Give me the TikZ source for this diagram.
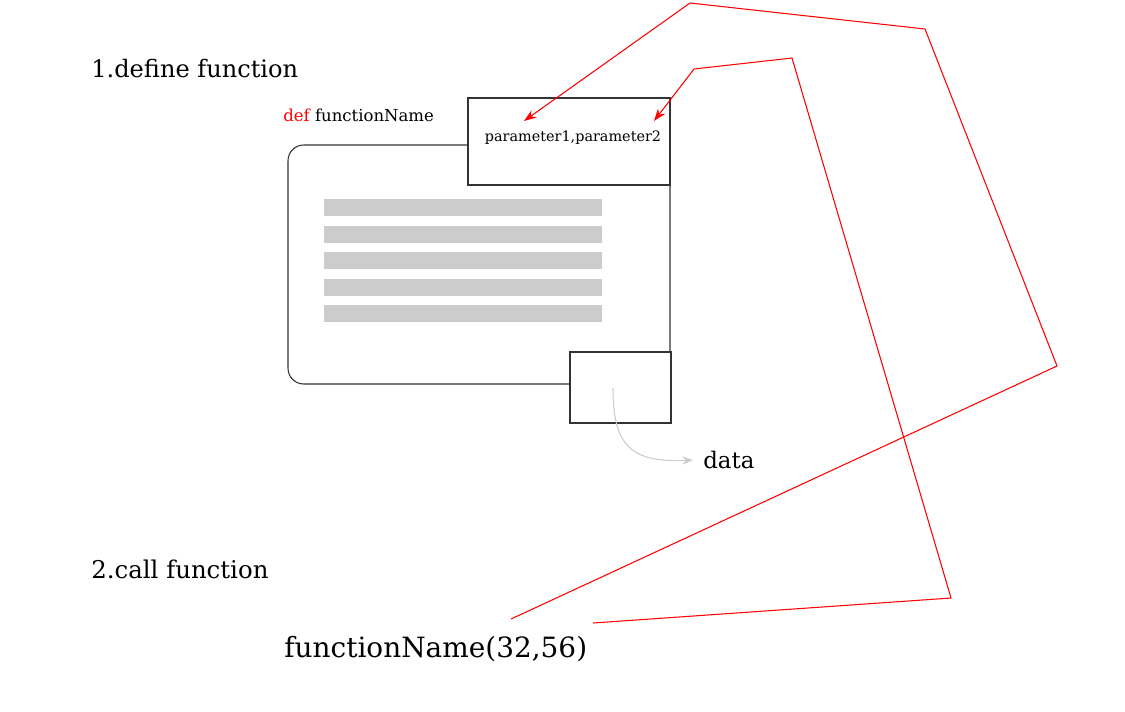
\documentclass[tikz,border=0pt]{standalone}
\usepackage{fontspec}
\setmainfont{DejaVu Serif}
\usetikzlibrary{arrows.meta}
\definecolor{barGray}{HTML}{CCCCCC}
\definecolor{lineGray}{HTML}{333333}
\tikzset{
  box/.style={draw=lineGray, line width=0.6pt},
  bar/.style={fill=barGray, draw=none},
  redLine/.style={draw=red, line width=0.6pt},
  redArrow/.style={redLine, -{Stealth[length=7pt,width=5pt]}},
  label/.style={inner sep=0pt, anchor=west}
}
\begin{document}
\begin{tikzpicture}[x=0.02cm, y=-0.02cm]
        \useasboundingbox (0,0) rectangle (1125,711);

        % function body
        \draw[box, rounded corners=9pt] (288,145) rectangle (670,384);
        \foreach \y in {199,225.5,252,278.5,305}
            \fill[bar] (324,\y) rectangle (602,\y+17);
        \node[box, fill=white, minimum width=202*0.02cm, minimum height=87*0.02cm, inner sep=0pt] (params) at (569,141.5) {};
        \node[box, fill=white, minimum width=101*0.02cm, minimum height=71*0.02cm, inner sep=0pt] (ret) at (620.5,387.5) {};

        % texts
        \node[label, font=\fontsize{13.7}{16}\selectfont] (define) at (91,69) {1.define function};
        \node[label, font=\fontsize{9.4}{12}\selectfont] (defname) at (283,115) {\textcolor{red}{def} functionName};
        \node[font=\fontsize{8.2}{10}\selectfont, inner sep=0pt] (plist) at (573,138) {parameter1,parameter2};
        \node[label, font=\fontsize{13}{16}\selectfont, inner sep=0.2cm] (data) at (693,460) {data};
        \node[label, font=\fontsize{13.9}{16}\selectfont] (call) at (91,569) {2.call function};
        \node[label, font=\fontsize{15.9}{19}\selectfont] (callname) at (284,649) {functionName(32,56)};

        % return value
        \coordinate (retOut) at (613,388);
        \draw[draw=barGray, line width=0.6pt, -{Stealth[length=6pt,width=4.5pt]}] (retOut) .. controls (613,445) and (630,463) .. (data.west);

        % arguments to parameters
        \coordinate (argA) at (511,619);
        \coordinate (argB) at (593,623);
        \coordinate (parA) at (524,121);
        \coordinate (parB) at (654,121);
        \draw[redArrow] (argA) -- (1057,366) -- (925,29) -- (690,3) -- (parA);
        \draw[redArrow] (argB) -- (951,598) -- (792,58) -- (694,69) -- (parB);

\end{tikzpicture}
\end{document}
